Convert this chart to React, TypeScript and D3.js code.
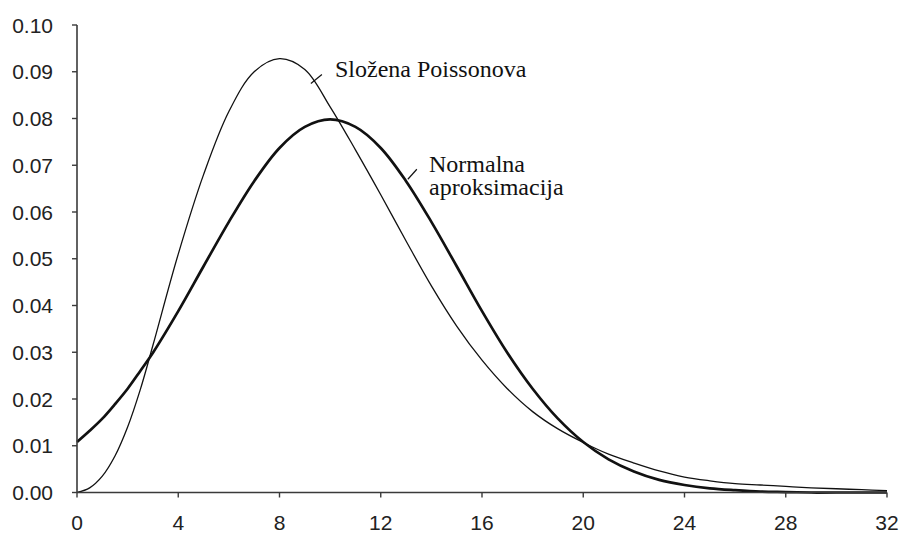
import * as d3 from "d3";

// x positions of the readings (half steps near the steep start)
const xs = [
  0, 0.5, 1, 1.5, 2, 2.5, 3, 4, 5, 6, 7, 8, 9, 10, 11, 12, 13, 14, 15, 16,
  17, 18, 19, 20, 21, 22, 23, 24, 25, 26, 27, 28, 29, 30, 31, 32,
];

// "Složena Poissonova" (thin line)
const poissonVals = [
  0, 0.001, 0.0035, 0.0078, 0.014, 0.022, 0.0315, 0.051, 0.068, 0.0815,
  0.09, 0.0928, 0.0905, 0.0825, 0.0733, 0.0637, 0.0538, 0.0442, 0.0356,
  0.0283, 0.0222, 0.0173, 0.0136, 0.0107, 0.0082, 0.0063, 0.0046, 0.0033,
  0.0025, 0.0019, 0.0016, 0.0013, 0.001, 0.0008, 0.0006, 0.0004,
];

// "Normalna aproksimacija" (thick line)
const normalVals = [
  0.0108, 0.0132, 0.0158, 0.0189, 0.0222, 0.026, 0.0299, 0.0388, 0.0484,
  0.0579, 0.0666, 0.0737, 0.0782, 0.0798, 0.0782, 0.0737, 0.0666, 0.0579,
  0.0484, 0.0388, 0.0299, 0.0222, 0.0158, 0.0108, 0.0071, 0.0045, 0.0027,
  0.0016, 0.0009, 0.0005, 0.0002, 0.0001, 0, 0, 0, 0,
];

const xTicks = [0, 4, 8, 12, 16, 20, 24, 28, 32];
const yTicks = [0, 0.01, 0.02, 0.03, 0.04, 0.05, 0.06, 0.07, 0.08, 0.09, 0.1];

const W = 900;
const H = 534;

export default function App() {
  const x = d3.scaleLinear().domain([0, 32]).range([77, 887]);
  const y = d3.scaleLinear().domain([0, 0.1]).range([492.5, 25]);

  const line = d3
    .line<number>()
    .x((_, i) => x(xs[i]))
    .y((d) => Math.min(y(0), y(d)))
    .curve(d3.curveCatmullRom.alpha(0.5));

  const axisColor = "#3a3a3a";
  const tickFont = "'Liberation Sans', Arial, sans-serif";
  const labelFont = "'Liberation Serif', 'Times New Roman', Times, serif";

  // leader line anchors sit on the curves
  const pA = [x(9.24), y(0.0875)];
  const nA = [x(13.07), y(0.067)];

  return (
    <svg
      width={W}
      height={H}
      style={{ position: "absolute", left: 0, top: 0, background: "#fff" }}
    >
      {/* curves */}
      <path d={line(poissonVals) ?? ""} fill="none" stroke="#111" strokeWidth={1.3} />
      <path d={line(normalVals) ?? ""} fill="none" stroke="#111" strokeWidth={2.7} />

      {/* axes */}
      <line x1={x(0)} x2={x(0)} y1={y(0.1)} y2={y(0)} stroke={axisColor} strokeWidth={1.6} />
      <line x1={x(0)} x2={x(32)} y1={y(0)} y2={y(0)} stroke={axisColor} strokeWidth={1.6} />

      {yTicks.map((t) => (
        <g key={"y" + t}>
          <line x1={x(0) - 5} x2={x(0)} y1={y(t)} y2={y(t)} stroke={axisColor} strokeWidth={1.4} />
          <text
            x={53}
            y={y(t)}
            dy="0.36em"
            textAnchor="end"
            style={{ fontFamily: tickFont, fontSize: 21 }}
            fill="#222"
          >
            {t.toFixed(2)}
          </text>
        </g>
      ))}

      {xTicks.map((t) => (
        <g key={"x" + t}>
          <line x1={x(t)} x2={x(t)} y1={y(0)} y2={y(0) + 5} stroke={axisColor} strokeWidth={1.4} />
          <text
            x={x(t)}
            y={530}
            textAnchor="middle"
            style={{ fontFamily: tickFont, fontSize: 21 }}
            fill="#222"
          >
            {t}
          </text>
        </g>
      ))}

      {/* labels */}
      <line x1={pA[0]} y1={pA[1]} x2={pA[0] + 11} y2={pA[1] - 9} stroke="#111" strokeWidth={1.2} />
      <text x={335} y={77} style={{ fontFamily: labelFont, fontSize: 24 }} fill="#111">
        Složena Poissonova
      </text>

      <line x1={nA[0]} y1={nA[1]} x2={nA[0] + 9} y2={nA[1] - 10} stroke="#111" strokeWidth={1.2} />
      <text x={429} y={172} style={{ fontFamily: labelFont, fontSize: 24 }} fill="#111">
        Normalna
      </text>
      <text x={429} y={195} style={{ fontFamily: labelFont, fontSize: 24 }} fill="#111">
        aproksimacija
      </text>
    </svg>
  );
}
